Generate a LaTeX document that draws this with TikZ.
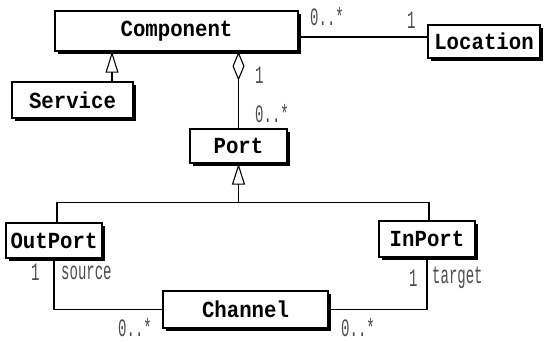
\documentclass[tikz,border=0pt]{standalone}
\usepackage{fontspec}
\setmonofont{Liberation Mono}
\newfontfamily\clsfont[FakeStretch=0.9]{Liberation Mono}
\newfontfamily\multfont[FakeStretch=0.56]{Liberation Mono}
\usetikzlibrary{arrows.meta,positioning,shadows}

\begin{document}
\begin{tikzpicture}[x=1pt, y=-1pt]
        \tikzstyle{cls} = [rectangle, draw, line width=1.3pt, fill=white, inner sep=0pt, font=\fontsize{23}{23}\selectfont\clsfont\bfseries, drop shadow={shadow xshift=3pt, shadow yshift=-3pt, fill=black, opacity=1}]
        \tikzstyle{link} = [line width=1.1pt]
        \tikzstyle{gen} = [link, -{Triangle[open, length=21pt, width=13pt, line width=1.1pt]}]
        \tikzstyle{agg} = [link, -{Diamond[open, length=29pt, width=12pt, line width=1.1pt]}]
        \tikzstyle{mult} = [font=\fontsize{25}{25}\selectfont\multfont, text=black!70, inner sep=0pt, anchor=base west]

        \useasboundingbox (0,0) rectangle (545,341);

        % classes
        \node (component) [cls, minimum width=243pt, minimum height=40pt] at (176.5,31) {Component};
        \node (service) [cls, minimum width=121pt, minimum height=36pt] at (72.5,100) {Service};
        \node (location) [cls, minimum width=112pt, minimum height=33pt] at (484,41.5) {Location};
        \node (port) [cls, minimum width=97pt, minimum height=34pt] at (238.5,146) {Port};
        \node (outport) [cls, minimum width=96pt, minimum height=35pt] at (54,240.5) {OutPort};
        \node (inport) [cls, minimum width=96pt, minimum height=36pt] at (427,239) {InPort};
        \node (channel) [cls, minimum width=165pt, minimum height=37pt] at (245.5,309.5) {Channel};

        % associations
        \draw[link] ([yshift=-6pt]component.east) -- ([yshift=-6pt]component.east -| location.west);
        \draw[agg] (port.north) -- (port.north |- component.south);
        \draw[link] (outport.south) |- (channel.west);
        \draw[link] (inport.south) |- (channel.east);

        % inheritance
        \draw[gen] ([xshift=39.5pt]service.north) -- ([xshift=39.5pt]service.north |- component.south);
        \coordinate (fork) at ([yshift=-39pt]port.south);
        \draw[gen] (fork) -- (port.south);
        \draw[link] ([xshift=3pt]outport.north) |- (fork) -| ([xshift=2pt]inport.north);

        % multiplicities and roles
        \node (complocmany) [mult] at (310,25) {0..*};
        \node (loconce) [mult] at (407,28) {1};
        \node (portowner) [mult] at (255,83) {1};
        \node (portmany) [mult] at (255,122) {0..*};
        \node (srcone) [mult] at (31,280) {1};
        \node (srcrole) [mult] at (61,279) {source};
        \node (srcmany) [mult] at (118,336) {0..*};
        \node (tgtone) [mult] at (409,286) {1};
        \node (tgtrole) [mult] at (432,283) {target};
        \node (tgtmany) [mult] at (341,336) {0..*};
    \end{tikzpicture}
\end{document}
